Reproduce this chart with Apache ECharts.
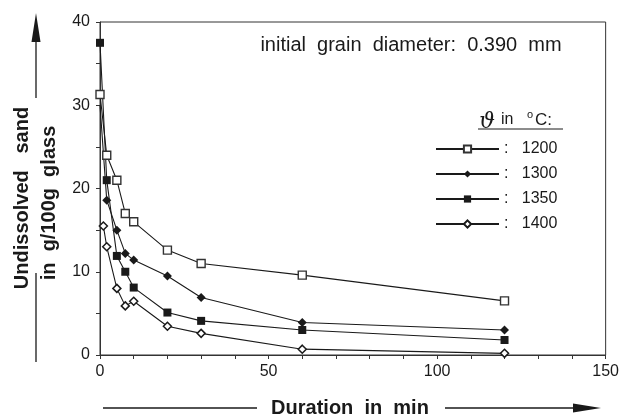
<!DOCTYPE html>
<html>
<head>
<meta charset="utf-8">
<script src="https://cdn.jsdelivr.net/npm/echarts@6/dist/echarts.min.js"></script>
<style>
html,body{margin:0;padding:0;background:#fff;}
#chart{width:622px;height:417px;}
</style>
</head>
<body>
<div id="chart"></div>
<script>
// ---- data ----
const seriesNames = ['1200', '1300', '1350', '1400'];
const times1200 = [0, 2, 5, 7.5, 10, 20, 30, 60, 120];
const vals1200  = [31.3, 24, 21, 17, 16, 12.6, 11, 9.6, 6.5];
const times1300 = [0, 2, 5, 7.5, 10, 20, 30, 60, 120];
const vals1300  = [30, 18.6, 15, 12.2, 11.4, 9.5, 6.9, 3.9, 3.0];
const times1350 = [0, 2, 5, 7.5, 10, 20, 30, 60, 120];
const vals1350  = [37.5, 21, 11.9, 10, 8.1, 5.1, 4.1, 3.0, 1.8];
const times1400 = [1, 2, 5, 7.5, 10, 20, 30, 60, 120];
const vals1400  = [15.5, 13, 8, 5.9, 6.45, 3.45, 2.6, 0.7, 0.2];
const xTicks = [0, 50, 100, 150];
const yTicks = [0, 10, 20, 30, 40];
const annotation = 'initial  grain  diameter:  0.390  mm';
const xTitle = 'Duration  in  min';
const yTitle1 = 'Undissolved   sand';
const yTitle2 = 'in  g/100g  glass';

const FONT = '"Liberation Sans", Arial, Helvetica, sans-serif';
const INK = '#1a1a1a';

function pairs(t, v) { return t.map((x, i) => [x, v[i]]); }

const chart = echarts.init(document.getElementById('chart'), null, {renderer: 'canvas'});

const lineStyle = {color: INK, width: 1.1};
const option = {
  animation: false,
  backgroundColor: '#fff',
  grid: {left: 100, right: 14, top: 22, bottom: 62, show: true, borderColor: '#333', borderWidth: 1, backgroundColor: 'transparent'},
  xAxis: {
    type: 'value', min: xTicks[0], max: xTicks[xTicks.length - 1], interval: 50,
    axisLine: {lineStyle: {color: '#333', width: 1}},
    axisTick: {show: true, length: 4, lineStyle: {color: '#333'}},
    minorTick: {show: true, splitNumber: 5, length: 4, lineStyle: {color: '#333'}},
    splitLine: {show: false},
    axisLabel: {color: INK, fontFamily: FONT, fontSize: 16, margin: 9}
  },
  yAxis: {
    type: 'value', min: yTicks[0], max: yTicks[yTicks.length - 1], interval: 10,
    axisLine: {show: true, lineStyle: {color: '#333', width: 1}},
    axisTick: {show: true, length: 4, lineStyle: {color: '#333'}},
    minorTick: {show: true, splitNumber: 2, length: 4, lineStyle: {color: '#333'}},
    splitLine: {show: false},
    axisLabel: {color: INK, fontFamily: FONT, fontSize: 16, margin: 10}
  },
  legend: {
    orient: 'vertical', left: 435, top: 141, padding: 0,
    itemWidth: 63, itemHeight: 9, itemGap: 9,
    data: seriesNames,
    formatter: name => ':   ' + name,
    textStyle: {color: INK, fontFamily: FONT, fontSize: 16, padding: [0, 0, 0, 0]}
  },
  series: [
    {name: seriesNames[0], type: 'line', data: pairs(times1200, vals1200), symbol: 'rect', symbolSize: 8,
     lineStyle: lineStyle, itemStyle: {color: '#fff', borderColor: '#333', borderWidth: 1.4}, z: 3},
    {name: seriesNames[1], type: 'line',
     data: pairs(times1300, vals1300).map((p, i) => i === 0 ? {value: p, symbol: 'none'} : p),
     symbol: 'diamond', symbolSize: 9,
     lineStyle: lineStyle, itemStyle: {color: INK, borderColor: INK, borderWidth: 0}, z: 3},
    {name: seriesNames[2], type: 'line', data: pairs(times1350, vals1350), symbol: 'rect', symbolSize: 8,
     lineStyle: lineStyle, itemStyle: {color: INK, borderColor: INK, borderWidth: 0}, z: 3},
    {name: seriesNames[3], type: 'line', data: pairs(times1400, vals1400), symbol: 'diamond', symbolSize: 8,
     lineStyle: lineStyle, itemStyle: {color: '#fff', borderColor: INK, borderWidth: 1.5}, z: 3}
  ],
  graphic: [
    // annotation
    {type: 'text', x: 411, y: 45, style: {text: annotation, font: '20px ' + FONT, fill: INK, textAlign: 'center', textVerticalAlign: 'middle'}},
    // legend header
    {type: 'text', x: 487, y: 122, style: {text: 'ϑ', font: 'italic 22px "DejaVu Serif", serif', fill: INK, textAlign: 'center', textVerticalAlign: 'middle'}},
    {type: 'text', x: 501, y: 120, style: {text: 'in', font: '16px ' + FONT, fill: INK, textAlign: 'left', textVerticalAlign: 'middle'}},
    {type: 'text', x: 527, y: 115, style: {text: 'o', font: '11px ' + FONT, fill: INK, textAlign: 'left', textVerticalAlign: 'middle'}},
    {type: 'text', x: 535, y: 120, style: {text: 'C:', font: '17px ' + FONT, fill: INK, textAlign: 'left', textVerticalAlign: 'middle'}},
    {type: 'line', shape: {x1: 478, y1: 129, x2: 563, y2: 129}, style: {stroke: INK, lineWidth: 1}},
    // y title
    {type: 'text', x: 22, y: 198, rotation: Math.PI / 2, style: {text: yTitle1, font: 'bold 20px ' + FONT, fill: INK, textAlign: 'center', textVerticalAlign: 'middle'}},
    {type: 'text', x: 49, y: 203, rotation: Math.PI / 2, style: {text: yTitle2, font: 'bold 20px ' + FONT, fill: INK, textAlign: 'center', textVerticalAlign: 'middle'}},
    {type: 'line', shape: {x1: 36, y1: 98, x2: 36, y2: 30}, style: {stroke: INK, lineWidth: 1.3}},
    {type: 'polygon', shape: {points: [[36, 13], [31.5, 42], [40.5, 42]]}, style: {fill: INK}},
    {type: 'line', shape: {x1: 36, y1: 273, x2: 36, y2: 362}, style: {stroke: INK, lineWidth: 1.3}},
    // x title
    {type: 'text', x: 350, y: 408, style: {text: xTitle, font: 'bold 20px ' + FONT, fill: INK, textAlign: 'center', textVerticalAlign: 'middle'}},
    {type: 'line', shape: {x1: 103, y1: 408, x2: 257, y2: 408}, style: {stroke: INK, lineWidth: 1.3}},
    {type: 'line', shape: {x1: 445, y1: 408, x2: 580, y2: 408}, style: {stroke: INK, lineWidth: 1.3}},
    {type: 'polygon', shape: {points: [[601, 408], [573, 403.5], [573, 412.5]]}, style: {fill: INK}}
  ]
};
chart.setOption(option);
</script>
</body>
</html>
